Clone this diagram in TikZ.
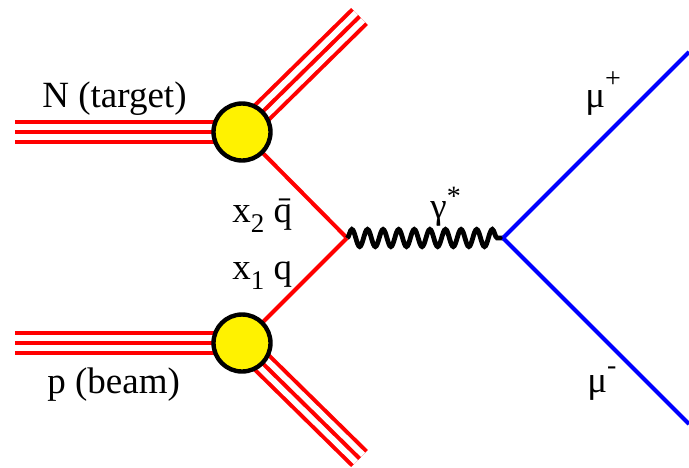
\documentclass[tikz,border=0pt]{standalone}
\usepackage{fontspec}
\setmainfont{Liberation Serif}
\usetikzlibrary{decorations.pathmorphing}
\newcommand{\mysup}[2]{\raisebox{#1}{\fontsize{14}{14}\selectfont #2}}
\newcommand{\mysub}[1]{\raisebox{-5pt}{\fontsize{13.5}{14}\selectfont #1}}
\begin{document}
\begin{tikzpicture}[x=0.5pt,y=-0.5pt,
  lbl/.style={font=\fontsize{18.5}{20}\selectfont, inner sep=0pt, anchor=base west},
  blob/.style={circle, draw=black, line width=2.2pt, fill=yellow, minimum size=28.5pt, inner sep=0pt},
  quark/.style={red, line width=2pt},
  lepton/.style={blue, line width=2pt},
  photon/.style={black, line width=2.4pt, decorate, decoration={snake, segment length=7.8pt, amplitude=4.3pt}},
  hadron/.style={red, line width=2pt, preaction={draw=red, line width=12pt}, preaction={draw=white, line width=8pt}},
]
\useasboundingbox (0,0) rectangle (689,467);
\coordinate (Nin) at (15,132);
\coordinate (Pin) at (15,343);
\coordinate (Tc) at (242,132);
\coordinate (Bc) at (242,343);
\coordinate (Tout) at (359.5,16.5);
\coordinate (Bout) at (359.5,458.5);
\coordinate (V) at (347,238);
\coordinate (W) at (503,238);
\coordinate (mup) at (689,52);
\coordinate (mum) at (689,424);

\draw[hadron] (Nin) -- (Tc);
\draw[hadron] (Tc) -- (Tout);
\draw[hadron] (Pin) -- (Bc);
\draw[hadron] (Bc) -- (Bout);
\draw[quark] (Tc) -- (V);
\draw[quark] (Bc) -- (V);
\draw[photon] (V) -- (W);
\draw[lepton] (W) -- (mup);
\draw[lepton] (W) -- (mum);

\node[blob] (T) at (Tc) {};
\node[blob] (B) at (Bc) {};

\node[lbl] (lN) at (42,107) {N (target)};
\node[lbl] (lp) at (47,393) {p (beam)};
\node[lbl] (lqb) at (232,222) {x\mysub{2} \=q};
\node[lbl] (lq) at (232,279) {x\mysub{1} q};
\node[lbl] (lg) at (430,218) {γ\mysup{6.5pt}{*}};
\node[lbl] (lmp) at (585,107) {μ\mysup{10pt}{+}};
\node[lbl] (lmm) at (587,392) {μ\mysup{9pt}{-}};
\end{tikzpicture}
\end{document}
